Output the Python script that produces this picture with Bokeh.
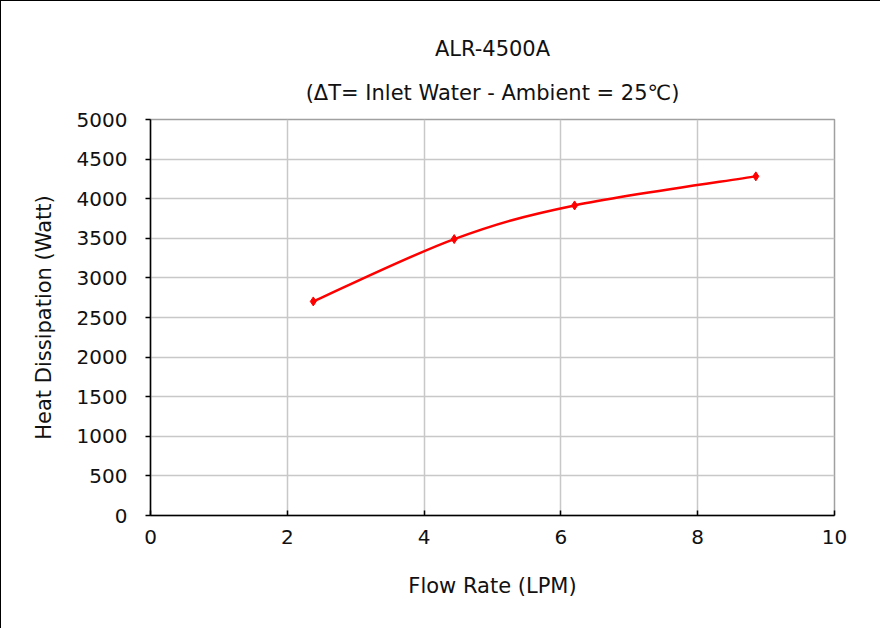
from bokeh.plotting import figure
from bokeh.models import Title, FixedTicker, Range1d
from bokeh.embed import file_html
from bokeh.resources import INLINE

# data
flow_rate = [2.38, 4.44, 6.20, 8.85]
heat_dissipation = [2703, 3490, 3915, 4282]
x_ticks = [0, 2, 4, 6, 8, 10]
y_ticks = [0, 500, 1000, 1500, 2000, 2500, 3000, 3500, 4000, 4500, 5000]
title_text = "ALR-4500A"
subtitle_text = "(\u0394T= Inlet Water - Ambient = 25\u2103)"
x_label = "Flow Rate (LPM)"
y_label = "Heat Dissipation (Watt)"

FONT = "DejaVu Sans"
TXT = "#111111"

p = figure(width=880, height=628, output_backend="svg", toolbar_location=None,
           x_range=Range1d(0, 10), y_range=Range1d(0, 5000),
           min_border_left=149, min_border_right=47, min_border_top=118, min_border_bottom=114)
p.title = None
p.styles = {"border-top": "1px solid black", "border-left": "1px solid black"}

sub = Title(text=subtitle_text, align="center", text_font=FONT,
            text_font_size="21px", text_font_style="normal", text_color=TXT, standoff=30)
p.add_layout(sub, "above")
main = Title(text=title_text, align="center", text_font=FONT,
             text_font_size="21px", text_font_style="normal", text_color=TXT, standoff=5)
p.add_layout(main, "above")

# smoothed line (Excel-style Catmull-Rom as Bezier segments)
n = len(flow_rate)
x0, y0, x1, y1, cx0, cy0, cx1, cy1 = [], [], [], [], [], [], [], []
for i in range(n - 1):
    xa, ya = flow_rate[i], heat_dissipation[i]
    xb, yb = flow_rate[i + 1], heat_dissipation[i + 1]
    xp, yp = (flow_rate[i - 1], heat_dissipation[i - 1]) if i > 0 else (xa, ya)
    xn, yn = (flow_rate[i + 2], heat_dissipation[i + 2]) if i + 2 < n else (xb, yb)
    x0.append(xa); y0.append(ya); x1.append(xb); y1.append(yb)
    cx0.append(xa + (xb - xp) / 6.0); cy0.append(ya + (yb - yp) / 6.0)
    cx1.append(xb - (xn - xa) / 6.0); cy1.append(yb - (yn - ya) / 6.0)

p.bezier(x0=x0, y0=y0, x1=x1, y1=y1, cx0=cx0, cy0=cy0, cx1=cx1, cy1=cy1,
         line_color="#FF0000", line_width=2.5)
p.scatter(flow_rate, heat_dissipation, marker="diamond", size=9,
          fill_color="#FF0000", line_color="#FF0000")

# axes
xa_ = p.below[0]
ya_ = p.left[0]
xa_.ticker = FixedTicker(ticks=x_ticks)
ya_.ticker = FixedTicker(ticks=y_ticks)
for ax in (xa_, ya_):
    ax.axis_line_color = "black"
    ax.axis_line_width = 1.5
    ax.major_tick_line_color = "black"
    ax.major_tick_line_width = 1.5
    ax.minor_tick_line_color = None
    ax.major_label_text_font = FONT
    ax.major_label_text_font_size = "20px"
    ax.major_label_text_color = TXT
    ax.axis_label_text_font = FONT
    ax.axis_label_text_font_size = "21px"
    ax.axis_label_text_font_style = "normal"
    ax.axis_label_text_color = TXT

xa_.axis_label = x_label
ya_.axis_label = y_label
xa_.major_tick_in = 5
xa_.major_tick_out = 0
ya_.major_tick_in = 0
ya_.major_tick_out = 5
xa_.major_label_standoff = 14
ya_.major_label_standoff = 18
xa_.axis_label_standoff = 27
ya_.axis_label_standoff = 18

p.xgrid.grid_line_color = "#C8C8C8"
p.ygrid.grid_line_color = "#C8C8C8"
p.xgrid.grid_line_width = 1.5
p.ygrid.grid_line_width = 1.5
p.outline_line_color = "#A0A0A0"
p.outline_line_width = 1.5
p.background_fill_color = "white"
p.border_fill_color = "white"

open("out.html", "w").write(file_html(p, INLINE))
